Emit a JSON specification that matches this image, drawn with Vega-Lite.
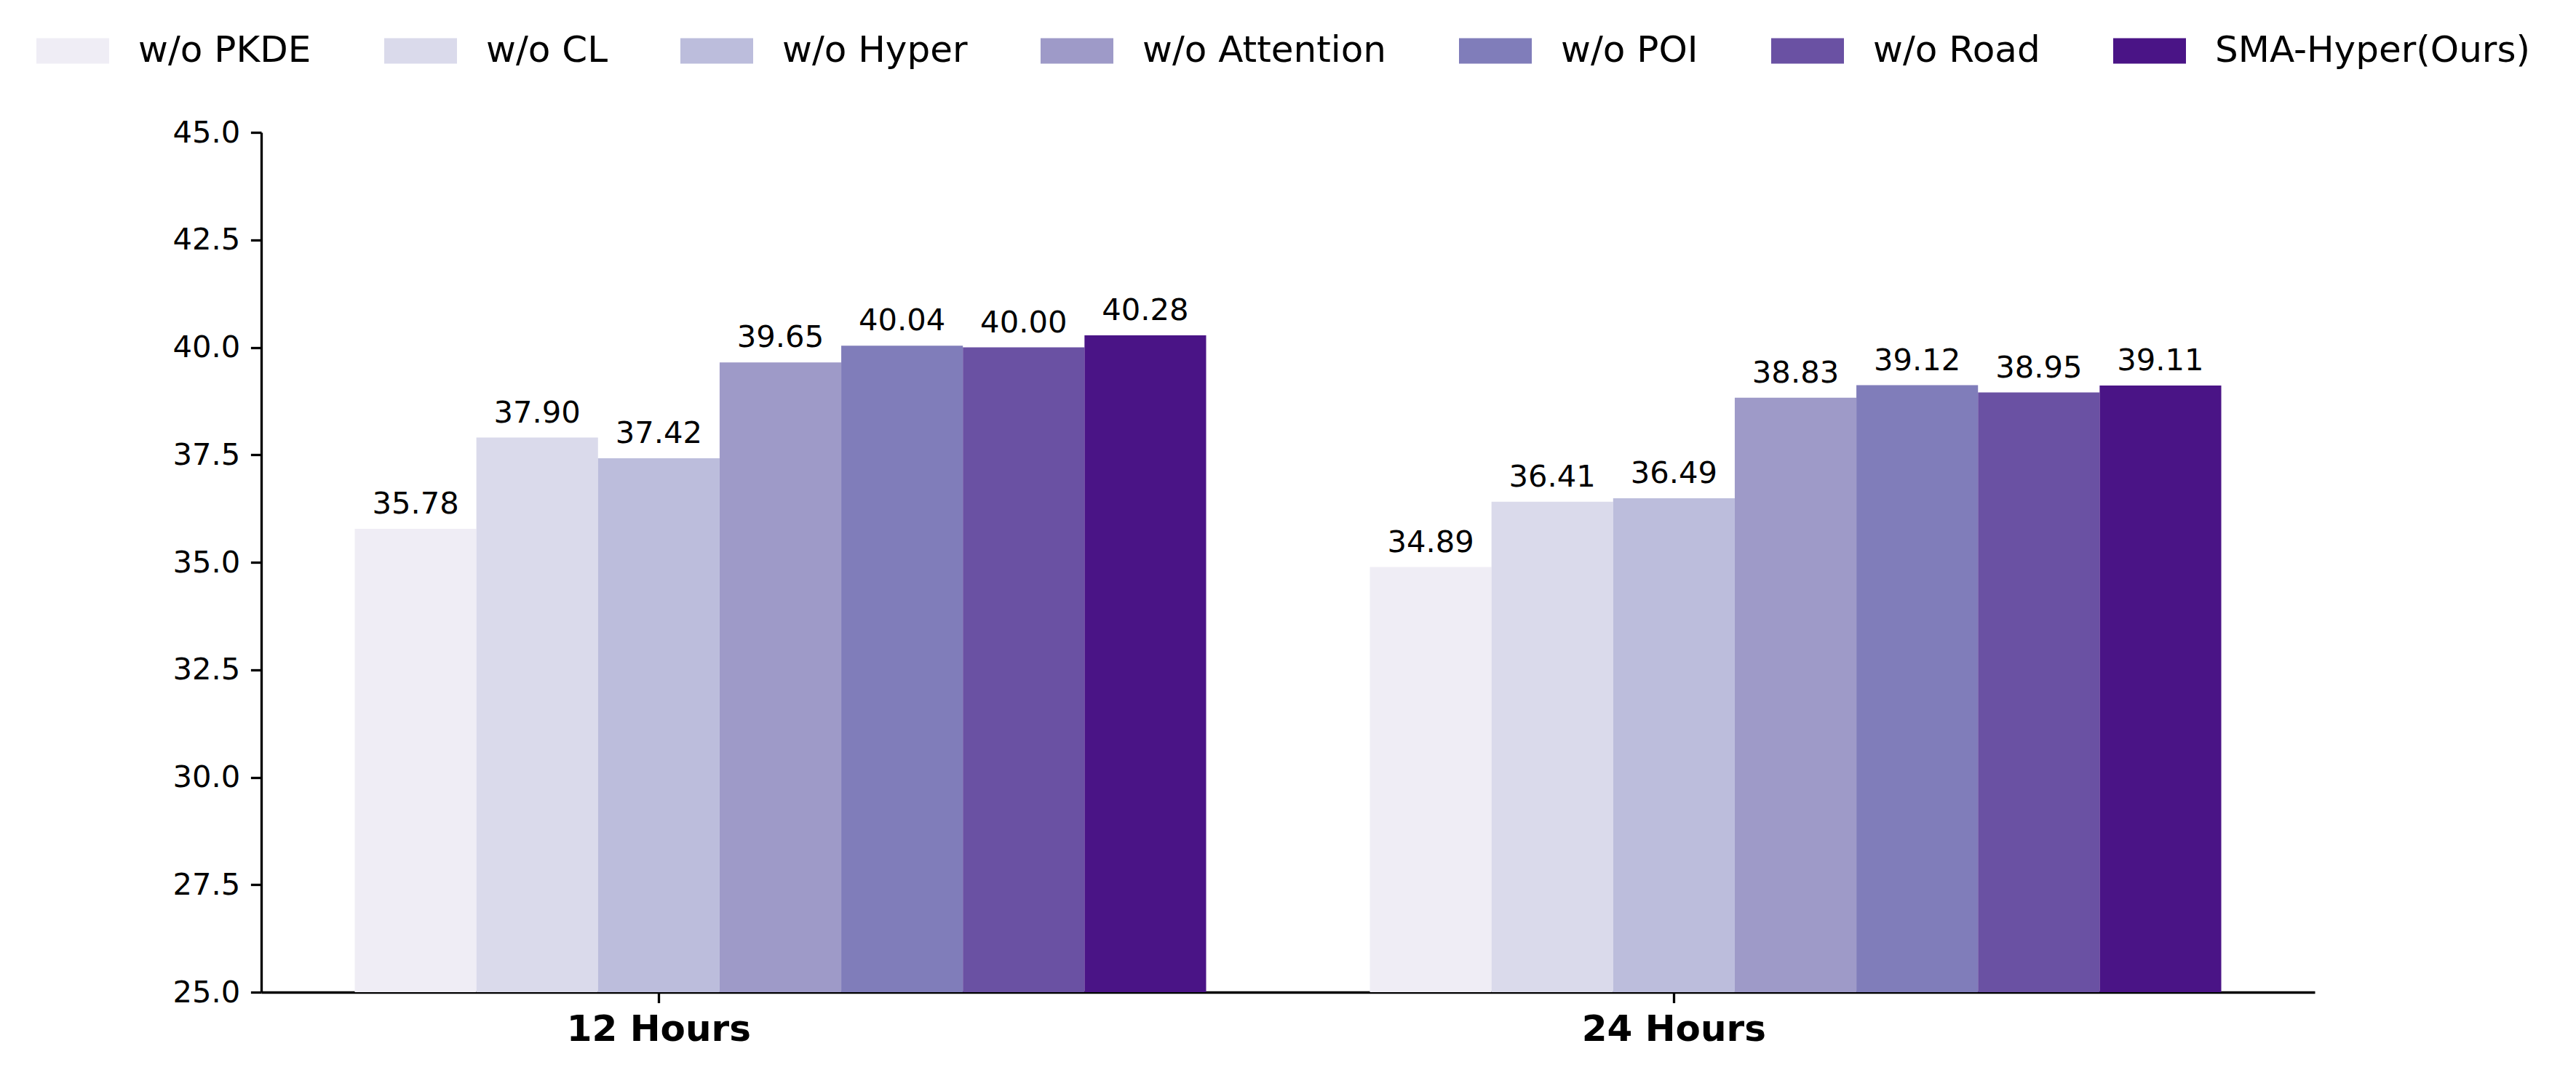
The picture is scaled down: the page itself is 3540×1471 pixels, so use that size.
{
  "$schema": "https://vega.github.io/schema/vega-lite/v6.json",
  "autosize": {"type": "none"},
  "width": 2822,
  "height": 1182,
  "padding": {"left": 359, "top": 182, "right": 359, "bottom": 107},
  "background": "white",
  "config": {
    "font": "DejaVu Sans",
    "view": {"stroke": null}
  },
  "data": {
    "values": [
      {"group": "12 Hours", "model": "w/o PKDE", "value": 35.78},
      {"group": "12 Hours", "model": "w/o CL", "value": 37.90},
      {"group": "12 Hours", "model": "w/o Hyper", "value": 37.42},
      {"group": "12 Hours", "model": "w/o Attention", "value": 39.65},
      {"group": "12 Hours", "model": "w/o POI", "value": 40.04},
      {"group": "12 Hours", "model": "w/o Road", "value": 40.00},
      {"group": "12 Hours", "model": "SMA-Hyper(Ours)", "value": 40.28},
      {"group": "24 Hours", "model": "w/o PKDE", "value": 34.89},
      {"group": "24 Hours", "model": "w/o CL", "value": 36.41},
      {"group": "24 Hours", "model": "w/o Hyper", "value": 36.49},
      {"group": "24 Hours", "model": "w/o Attention", "value": 38.83},
      {"group": "24 Hours", "model": "w/o POI", "value": 39.12},
      {"group": "24 Hours", "model": "w/o Road", "value": 38.95},
      {"group": "24 Hours", "model": "SMA-Hyper(Ours)", "value": 39.11}
    ]
  },
  "encoding": {
    "x": {
      "field": "group",
      "type": "nominal",
      "sort": ["12 Hours", "24 Hours"],
      "scale": {"paddingInner": 0.1613, "paddingOuter": 0.0921},
      "axis": {
        "title": null,
        "labelAngle": 0,
        "labelFontSize": 50,
        "labelFontWeight": "bold",
        "labelColor": "black",
        "labelPadding": 12,
        "labelLimit": 0,
        "labelOffset": -167.2,
        "bandPosition": 0.357143,
        "tickSize": 14.6,
        "tickWidth": 3.3,
        "tickColor": "black",
        "domainWidth": 3.3,
        "domainColor": "black",
        "grid": false
      }
    },
    "xOffset": {
      "field": "model",
      "type": "nominal",
      "sort": ["w/o PKDE", "w/o CL", "w/o Hyper", "w/o Attention", "w/o POI", "w/o Road", "SMA-Hyper(Ours)"],
      "scale": {"paddingInner": 0, "paddingOuter": 0}
    },
    "y": {
      "field": "value",
      "type": "quantitative",
      "scale": {"domain": [25, 45], "zero": false, "nice": false},
      "axis": {
        "title": null,
        "values": [25, 27.5, 30, 32.5, 35, 37.5, 40, 42.5, 45],
        "format": ".1f",
        "labelFontSize": 41.7,
        "labelColor": "black",
        "labelPadding": 14.6,
        "tickSize": 14.6,
        "tickWidth": 3.3,
        "tickColor": "black",
        "domainWidth": 3.3,
        "domainColor": "black",
        "grid": false
      }
    }
  },
  "layer": [
    {
      "mark": {"type": "bar"},
      "encoding": {
        "y2": {"datum": 25},
        "color": {
          "field": "model",
          "type": "nominal",
          "scale": {
            "domain": ["w/o PKDE", "w/o CL", "w/o Hyper", "w/o Attention", "w/o POI", "w/o Road", "SMA-Hyper(Ours)"],
            "range": ["#efedf5", "#dadaeb", "#bcbddc", "#9e9ac8", "#807dba", "#6a51a3", "#4a1486"]
          },
          "legend": {
            "title": null,
            "orient": "none",
            "legendX": -309,
            "legendY": -162,
            "direction": "horizontal",
            "columns": 7,
            "padding": 0,
            "symbolType": "M-1,-0.35L1,-0.35L1,0.35L-1,0.35Z",
            "symbolSize": 10000,
            "symbolStrokeWidth": 0,
            "symbolOpacity": 1,
            "labelFontSize": 50,
            "labelColor": "black",
            "labelOffset": 40,
            "labelLimit": 0,
            "columnPadding": 100
          }
        }
      }
    },
    {
      "mark": {"type": "text", "fontSize": 41.7, "color": "black", "baseline": "alphabetic", "align": "center", "dy": -21},
      "encoding": {
        "text": {"field": "value", "type": "quantitative", "format": ".2f"}
      }
    }
  ]
}
